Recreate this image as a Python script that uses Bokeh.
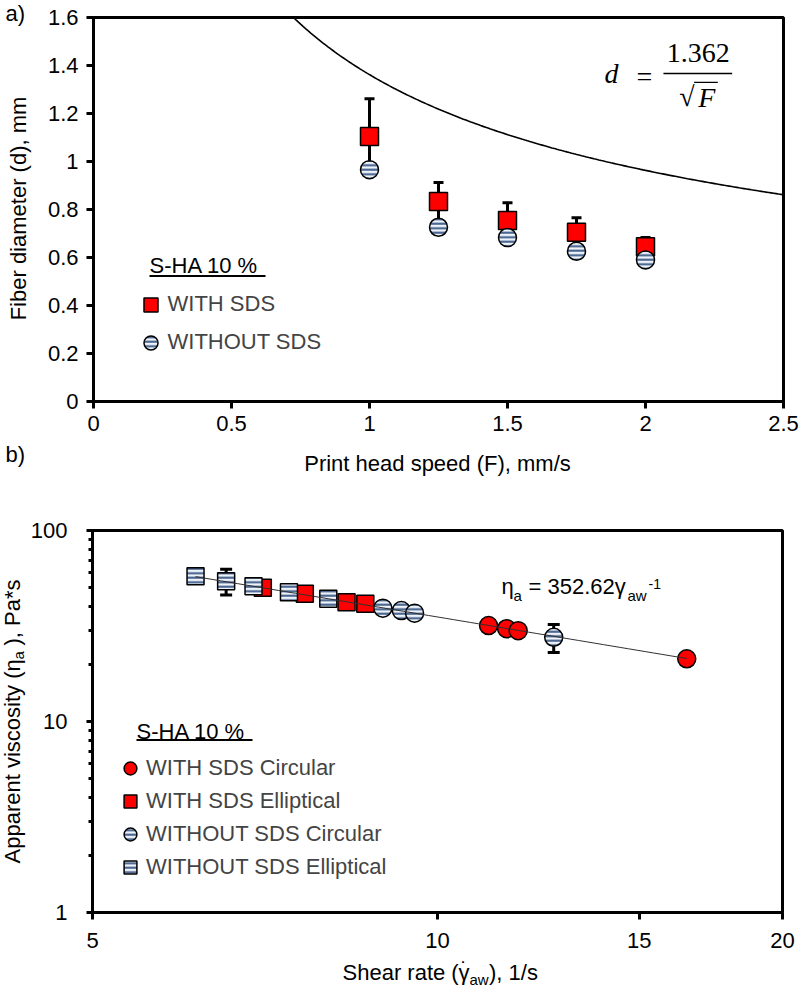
import math
import numpy as np
from bokeh.plotting import figure
from bokeh.layouts import column, row
from bokeh.models import (Label, BoxAnnotation, Whisker, TeeHead, ColumnDataSource, FixedTicker,
                          CustomJSTickFormatter, Legend, LegendItem, Range1d)
from bokeh.embed import file_html
from bokeh.resources import INLINE

FONT = "Liberation Sans"
SERIF = "Liberation Serif"

# ---------------- Panel a data ----------------
speed = [1.0, 1.25, 1.5, 1.75, 2.0]
d_with_sds = [1.104, 0.833, 0.754, 0.705, 0.645]
d_with_sds_err = [0.157, 0.080, 0.074, 0.061, 0.038]
d_without_sds = [0.966, 0.726, 0.683, 0.626, 0.590]
fit_a_coef = 1.362
a_x_ticks = [0, 0.5, 1, 1.5, 2, 2.5]
a_y_ticks = [0, 0.2, 0.4, 0.6, 0.8, 1.0, 1.2, 1.4, 1.6]

# ---------------- Panel b data ----------------
wsds_circ_rate = [11.08, 11.49, 11.76, 16.5]
wsds_circ_visc = [31.8, 30.6, 29.9, 21.3]
wsds_ell_rate = [7.04, 7.66, 8.33, 8.65]
wsds_ell_visc = [50.1, 46.6, 42.1, 41.3]
wosds_circ_rate = [8.96, 9.30, 9.55, 12.63]
wosds_circ_visc = [39.2, 38.1, 36.9, 27.6]
wosds_circ_err = [0.0, 0.0, 0.0, 4.6]
wosds_ell_rate = [6.15, 6.54, 6.91, 7.42, 8.03]
wosds_ell_visc = [57.6, 54.3, 51.1, 47.5, 43.9]
wosds_ell_err = [0.0, 8.4, 0.0, 0.0, 0.0]
fit_b_coef = 352.62
b_x_ticks = [5, 10, 15, 20]
b_y_ticks = [1, 10, 100]

RED = "#ff0000"
STRIPE = "#3d5a87"
STRIPE_BG = "#eef3fa"

fmt = CustomJSTickFormatter(code="return String(Number(tick.toFixed(3)))")


def style_axes(p, xstand, ystand, ytick_out=7):
    for ax in (p.xaxis[0], p.yaxis[0]):
        ax.axis_line_width = 3
        ax.axis_line_color = "black"
        ax.major_tick_line_width = 3
        ax.major_tick_line_color = "black"
        ax.major_tick_in = 0
        ax.major_label_text_font = FONT
        ax.major_label_text_font_size = "22px"
        ax.major_label_text_color = "black"
        ax.formatter = fmt
    p.xaxis[0].major_tick_out = 7
    p.yaxis[0].major_tick_out = ytick_out
    p.xaxis[0].major_label_standoff = xstand
    p.yaxis[0].major_label_standoff = ystand
    p.outline_line_color = "black"
    p.outline_line_width = 3
    p.xgrid.visible = False
    p.ygrid.visible = False


def text_strip(w, h):
    s = figure(width=w, height=h, x_range=Range1d(0, 1), y_range=Range1d(0, 1),
               output_backend="svg", toolbar_location=None, min_border=0,
               x_axis_location=None, y_axis_location=None, outline_line_color=None)
    s.grid.visible = False
    return s


def lab(p, text, x, y, size="22px", font=FONT, style="normal", align="left",
        baseline="middle", angle=0.0, units="screen"):
    p.add_layout(Label(x=x, y=y, x_units=units, y_units=units, text=text,
                       text_font=font, text_font_size=size, text_font_style=style,
                       text_align=align, text_baseline=baseline, angle=angle,
                       text_color="black"))


def underline(p, left, right, y):
    p.add_layout(BoxAnnotation(left=left, right=right, bottom=y - 1, top=y + 1,
                               left_units="screen", right_units="screen",
                               bottom_units="screen", top_units="screen",
                               fill_color="black", fill_alpha=1, line_color=None))


# ================= Panel a =================
pa = figure(width=756, height=440, x_range=Range1d(0, 2.5), y_range=Range1d(0, 1.6),
            output_backend="svg", toolbar_location=None,
            min_border_left=47, min_border_right=17, min_border_top=17, min_border_bottom=39)
pa.xaxis[0].ticker = FixedTicker(ticks=a_x_ticks, minor_ticks=[])
pa.yaxis[0].ticker = FixedTicker(ticks=a_y_ticks, minor_ticks=[])
style_axes(pa, xstand=7, ystand=8)

src_w = ColumnDataSource(dict(
    x=speed, y=d_with_sds,
    upper=[v + e for v, e in zip(d_with_sds, d_with_sds_err)],
    lower=[v - e for v, e in zip(d_with_sds, d_with_sds_err)]))
wh_a = Whisker(source=src_w, base="x", upper="upper", lower="lower",
               line_width=3, line_color="black", level="underlay",
               upper_head=TeeHead(size=10, line_width=3, line_color="black"),
               lower_head=TeeHead(size=10, line_width=3, line_color="black"))
pa.add_layout(wh_a)
r_sq = pa.scatter("x", "y", source=src_w, marker="square", size=18,
                  fill_color=RED, line_color="black", line_width=1.5)
r_ci = pa.scatter(x=speed, y=d_without_sds, marker="circle", size=18,
                  fill_color=STRIPE_BG, line_color="black", line_width=1.5,
                  hatch_pattern="horizontal_line", hatch_color=STRIPE,
                  hatch_scale=4.5, hatch_weight=2)
F_curve = np.linspace((fit_a_coef / 1.6) ** 2, 2.5, 200)
pa.line(F_curve, fit_a_coef / np.sqrt(F_curve), line_color="black", line_width=1.6)

leg_a = Legend(items=[LegendItem(label="WITH SDS", renderers=[r_sq]),
                      LegendItem(label="WITHOUT SDS", renderers=[r_ci])],
               location=(39.5, 41.5), glyph_width=35, glyph_height=35, spacing=3,
               padding=0, margin=0, label_standoff=0, label_text_font=FONT,
               label_text_font_size="22px", border_line_color=None,
               background_fill_alpha=0)
pa.add_layout(leg_a)
lab(pa, "S-HA 10 %", 56, 136)
underline(pa, 56, 172, 125.5)

# equation d = 1.362 / sqrt(F)
lab(pa, "d", 1.877, 1.367, size="28px", font=SERIF, style="italic", align="center",
    units="data")
lab(pa, "=", 1.996, 1.356, size="28px", font=SERIF, align="center", units="data")
lab(pa, "1.362", 2.191, 1.452, size="28px", font=SERIF, align="center", units="data")
pa.add_layout(BoxAnnotation(left=2.065, right=2.314, bottom=1.364, top=1.370,
                            fill_color="black", fill_alpha=1, line_color=None))
lab(pa, "\u221a", 2.150, 1.272, size="28px", font=SERIF, align="center", units="data")
lab(pa, "F", 2.222, 1.268, size="28px", font=SERIF, style="italic", align="center",
    units="data")
pa.add_layout(BoxAnnotation(left=2.176, right=2.262, bottom=1.327, top=1.332,
                            fill_color="black", fill_alpha=1, line_color=None))

# left strip of panel a: y title and letter a)
sa = text_strip(44, 440)
lab(sa, "Fiber diameter (d), mm", 18.3, 232, align="center", angle=math.pi / 2)
lab(sa, "a)", 5, 426.6)

# band between the panels: x title of panel a and the letter b)
band = text_strip(800, 40)
lab(band, "Print head speed (F), mm/s", 437, 16.6, align="center")
lab(band, "b)", 5, 26.5)

# ================= Panel b =================
pb = figure(width=773, height=476, x_axis_type="log", y_axis_type="log",
            x_range=Range1d(5, 20), y_range=Range1d(1, 100),
            output_backend="svg", toolbar_location=None,
            min_border_left=62, min_border_right=18, min_border_top=50, min_border_bottom=44)
pb.xaxis[0].ticker = FixedTicker(ticks=b_x_ticks, minor_ticks=[])
pb.yaxis[0].ticker = FixedTicker(ticks=b_y_ticks,
                                 minor_ticks=[m * d for d in (1, 10) for m in range(2, 10)])
style_axes(pb, xstand=13, ystand=19, ytick_out=6)
pb.yaxis[0].minor_tick_out = 4
pb.yaxis[0].minor_tick_in = 0
pb.yaxis[0].minor_tick_line_width = 3
pb.yaxis[0].minor_tick_line_color = "black"


def add_err(p, xs, ys, errs):
    keep = [i for i, e in enumerate(errs) if e > 0]
    src = ColumnDataSource(dict(x=[xs[i] for i in keep],
                                upper=[ys[i] + errs[i] for i in keep],
                                lower=[ys[i] - errs[i] for i in keep]))
    p.add_layout(Whisker(source=src, base="x", upper="upper", lower="lower",
                         line_width=3, line_color="black", level="underlay",
                         upper_head=TeeHead(size=12, line_width=3, line_color="black"),
                         lower_head=TeeHead(size=12, line_width=3, line_color="black")))


add_err(pb, wosds_ell_rate, wosds_ell_visc, wosds_ell_err)
add_err(pb, wosds_circ_rate, wosds_circ_visc, wosds_circ_err)

r_wsq = pb.scatter(wsds_ell_rate, wsds_ell_visc, marker="square", size=17,
                   fill_color=RED, line_color="black", line_width=1.5)
r_wci = pb.scatter(wsds_circ_rate, wsds_circ_visc, marker="circle", size=18,
                   fill_color=RED, line_color="black", line_width=1.5)
r_osq = pb.scatter(wosds_ell_rate, wosds_ell_visc, marker="square", size=17,
                   fill_color=STRIPE_BG, line_color="black", line_width=1.5,
                   hatch_pattern="horizontal_line", hatch_color=STRIPE,
                   hatch_scale=4.5, hatch_weight=2)
r_oci = pb.scatter(wosds_circ_rate, wosds_circ_visc, marker="circle", size=18,
                   fill_color=STRIPE_BG, line_color="black", line_width=1.5,
                   hatch_pattern="horizontal_line", hatch_color=STRIPE,
                   hatch_scale=4.5, hatch_weight=2)

all_rates = wsds_circ_rate + wsds_ell_rate + wosds_circ_rate + wosds_ell_rate
g = np.geomspace(min(all_rates), max(all_rates), 60)
pb.line(g, fit_b_coef / g, line_color="#303030", line_width=1)

leg_b = Legend(items=[LegendItem(label="WITH SDS Circular", renderers=[r_wci]),
                      LegendItem(label="WITH SDS Elliptical", renderers=[r_wsq]),
                      LegendItem(label="WITHOUT SDS Circular", renderers=[r_oci]),
                      LegendItem(label="WITHOUT SDS Elliptical", renderers=[r_osq])],
               location=(22, 28.75), glyph_width=32, glyph_height=32, spacing=1,
               padding=0, margin=0, label_standoff=0, label_text_font=FONT,
               label_text_font_size="22px", border_line_color=None,
               background_fill_alpha=0)
pb.add_layout(leg_b)
lab(pb, "S-HA 10 %", 44, 181)
underline(pb, 44, 160, 172.5)

# equation  eta_a = 352.62 gamma_aw^-1
lab(pb, "\u03b7", 409, 325.6)
lab(pb, "a", 421, 317.2, size="15px")
lab(pb, "= 352.62\u03b3", 436, 325.6)
lab(pb, "aw", 535, 317.2, size="15px")
lab(pb, "-1", 556, 328.9, size="14px")

# left strip of panel b: y title  Apparent viscosity (eta_a ), Pa*s
sb = text_strip(27, 476)
lab(sb, "Apparent viscosity (\u03b7", 11.9, 93, angle=math.pi / 2)
lab(sb, "a", 18.3, 297, size="15px", angle=math.pi / 2)
lab(sb, "), Pa*s", 11.9, 311, angle=math.pi / 2)

# bottom strip: x title of panel b  Shear rate (gamma-dot_aw), 1/s
sc = text_strip(800, 31)
lab(sc, "Shear rate (", 342, 14.6)
lab(sc, "\u03b3", 458, 14.6)
lab(sc, "\u02d9", 460, 19, size="21px")
lab(sc, "aw", 469, 8.2, size="15px")
lab(sc, "), 1/s", 488.5, 14.6)

layout = column(row(column(sa, spacing=0), pa, spacing=0), band,
                row(column(sb, spacing=0), pb, spacing=0), sc, spacing=0)
open("out.html", "w").write(file_html(layout, INLINE))
